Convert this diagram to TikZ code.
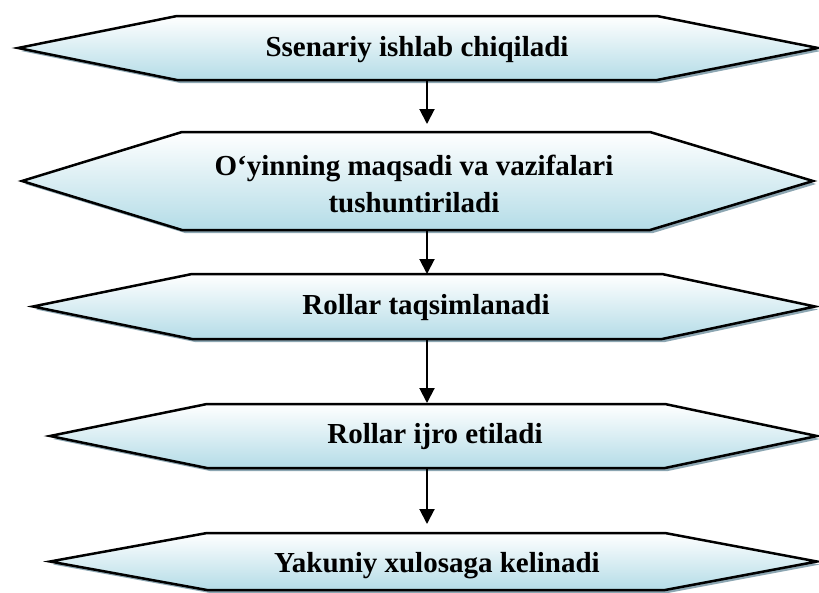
\documentclass[tikz,border=0pt]{standalone}
\usepackage{fontspec}
\setmainfont{Liberation Serif}
\usetikzlibrary{arrows.meta,calc}
\definecolor{boxlow}{RGB}{180,220,231}
\definecolor{shadowc}{RGB}{140,166,178}
\tikzset{
  hexfill/.style={top color=white, bottom color=boxlow, draw=black, line width=2.5pt, line join=miter},
  hexshadow/.style={fill=shadowc, draw=none},
  lbl/.style={font=\fontsize{29}{37}\selectfont\bfseries, align=center, inner sep=0pt, anchor=base},
  flow/.style={line width=2pt, -{Triangle[width=15pt,length=15pt]}}
}
% #1 tipL x, #2 left corner x, #3 right corner x, #4 tipR x, #5 top y, #6 bottom y
\newcommand{\hexbox}[6]{%
  \path[hexshadow] ($(#1,{(#5+#6)/2})+(3,3)$) -- ($(#2,#5)+(3,3)$) -- ($(#3,#5)+(3,3)$) -- ($(#4,{(#5+#6)/2})+(3,3)$) -- ($(#3,#6)+(3,3)$) -- ($(#2,#6)+(3,3)$) -- cycle;
  \path[hexfill] (#1,{(#5+#6)/2}) -- (#2,#5) -- (#3,#5) -- (#4,{(#5+#6)/2}) -- (#3,#6) -- (#2,#6) -- cycle;
}
\begin{document}
\begin{tikzpicture}[x=1pt,y=-1pt]
\useasboundingbox (0,0) rectangle (819,592);
\hexbox{18}{177}{657}{818}{16}{80}
\hexbox{22}{182}{650}{813}{132}{230}
\hexbox{33}{192}{662}{815}{274}{339}
\hexbox{50}{207}{665}{817}{404}{468}
\hexbox{50}{207}{665}{817}{533}{590}

\node[lbl] (t1) at (417,56) {Ssenariy ishlab chiqiladi};
\node[lbl] (t2) at (414,212) {O‘yinning maqsadi va vazifalari\\tushuntiriladi};
\node[lbl] (t3) at (426,314) {Rollar taqsimlanadi};
\node[lbl] (t4) at (435,443) {Rollar ijro etiladi};
\node[lbl] (t5) at (437,572) {Yakuniy xulosaga kelinadi};

\coordinate (b1) at (427,80);
\coordinate (a2) at (427,124);
\coordinate (b2) at (427,230);
\coordinate (a3) at (427,274);
\coordinate (b3) at (427,339);
\coordinate (a4) at (427,403);
\coordinate (b4) at (427,468);
\coordinate (a5) at (427,524);
\draw[flow] (b1) -- (a2);
\draw[flow] (b2) -- (a3);
\draw[flow] (b3) -- (a4);
\draw[flow] (b4) -- (a5);
\end{tikzpicture}
\end{document}
